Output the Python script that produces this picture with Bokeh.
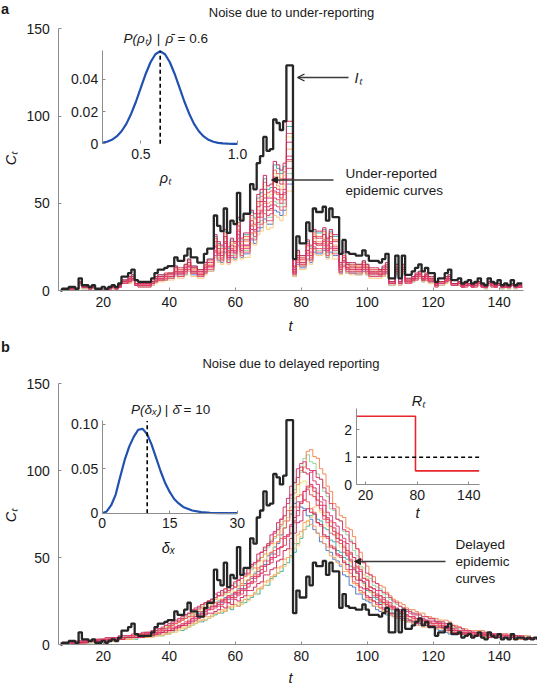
import numpy as np
from bokeh.plotting import figure
from bokeh.layouts import column
from bokeh.models import Range1d, LinearAxis, FixedTicker, Label, Arrow, OpenHead, NormalHead
from bokeh.embed import file_html
from bokeh.resources import INLINE

# ---------------- data ----------------
first_day = 7
# true incidence I_t, one value per day from t = 7 to t = 152
incidence = [
    0, 1, 1, 2, 2, 1, 7, 3, 3, 2, 3, 1,
    1, 2, 1, 2, 3, 2, 4, 8, 8, 10, 12, 6,
    5, 5, 5, 5, 7, 10, 12, 12, 13, 14, 14, 19,
    17, 17, 20, 24, 19, 19, 16, 16, 21, 24, 24, 43,
    37, 34, 47, 33, 40, 38, 56, 40, 44, 44, 61, 58,
    73, 77, 88, 80, 81, 98, 96, 92, 97, 129, 129, 18,
    31, 27, 27, 39, 34, 47, 45, 45, 48, 40, 47, 42,
    42, 21, 29, 22, 21, 21, 20, 20, 23, 20, 17, 17,
    17, 16, 18, 21, 7, 7, 20, 7, 20, 9, 9, 11,
    13, 15, 11, 13, 10, 10, 5, 7, 7, 10, 12, 6,
    6, 7, 4, 5, 6, 4, 5, 7, 4, 3, 7, 5,
    4, 6, 3, 4, 3, 6, 3, 4, 4, 3, 4, 3, 4, 3,
]
# reporting fractions of the under-reported curves (panel a)
under_report_fractions = [0.47, 0.73, 0.52, 0.68, 0.44, 0.63, 0.57, 0.70, 0.50, 0.60, 0.66, 0.54, 0.75, 0.58]

# centre of the delayed curves (panel b), t = 7 .. 152
delayed_centre = [
    0, 0, 0.5, 0.5, 1, 1, 1, 1.5, 1.5, 2, 2, 2,
    2, 2.5, 2.5, 3, 3, 3, 3.5, 3.5, 4, 4, 4.5, 4.5,
    5, 5, 5.5, 6, 6, 6.5, 7, 7.5, 8, 9, 9.5, 10,
    11, 12, 13, 14, 15, 16, 17, 18, 19.5, 20, 21, 22,
    23, 25, 24, 27, 26, 29, 28, 31, 32, 35, 35, 38,
    40, 41, 45, 46, 49, 50, 55, 56, 61, 63, 69, 73,
    79, 81, 88, 89, 86, 85, 80, 78, 72, 70, 64, 63,
    59, 58, 53, 52, 49, 44, 42, 37, 36, 32, 31, 28,
    27, 26, 24, 22, 21, 20, 19, 18, 17, 16, 16, 15,
    14, 14, 13, 13, 12, 12, 11.5, 11, 11, 10, 9, 8.5,
    8, 7, 7, 6.5, 6.5, 6, 6, 6, 5.5, 5.5, 5, 5,
    5, 5, 4.5, 4.5, 4.5, 4, 4, 4, 4, 4, 3.5, 3.5, 3.5, 3.5,
]
delay_shifts = [-3, 2, 0, -1, 3, 0, 1, -2, 0, 2, -2, 1, 0, -1]
delay_scales = [0.92, 0.84, 1.22, 1.06, 0.9, 0.8, 1.26, 0.97, 1.0, 1.12, 1.15, 1.02, 0.88, 1.18]

# inset: distribution of reporting fraction rho_t
rho_grid = [0.300, 0.325, 0.350, 0.375, 0.400, 0.425, 0.450, 0.475, 0.500, 0.525,
            0.550, 0.575, 0.600, 0.625, 0.650, 0.675, 0.700, 0.725, 0.750, 0.775,
            0.800, 0.825, 0.850, 0.875, 0.900, 0.925, 0.950, 0.975, 1.000]
rho_density = [0.0006, 0.0013, 0.0025, 0.0046, 0.0078, 0.0124, 0.0187, 0.0263, 0.0349, 0.0434,
               0.0507, 0.0557, 0.0575, 0.0557, 0.0507, 0.0434, 0.0349, 0.0263, 0.0187, 0.0124,
               0.0078, 0.0046, 0.0025, 0.0013, 0.0006, 0.0003, 0.0001, 0.0, 0.0]
rho_mean = 0.6

# inset: distribution of reporting delay delta_x
delay_grid = [0, 1, 2, 3, 4, 5, 6, 7, 8, 9, 10, 11, 12, 13, 14, 15, 16, 17, 18, 20, 22, 24, 26, 28, 30]
delay_density = [0.0, 0.002, 0.009, 0.021, 0.041, 0.060, 0.075, 0.086, 0.094, 0.095, 0.089, 0.077,
                 0.062, 0.047, 0.034, 0.024, 0.016, 0.011, 0.007, 0.003, 0.0012, 0.0004, 0.0001, 0.0, 0.0]
delay_mean = 10

# inset: reproduction number R_t
R_span = [9, 152]
R_change_day = 78
R_levels = [2.5, 0.5]
R_threshold = 1

curve_colors = ["#4a78c8", "#35b2a4", "#93d3a0", "#ece27c", "#fcc874", "#f9a65e", "#f5854f",
                "#ee6159", "#e84f72", "#db3a6c", "#cf2d62", "#e2466a", "#c8265c", "#d93c74"]

# ---------------- layout helpers ----------------
FONT = "Liberation Sans"
SX = 1.0
SY = 1.0
W = 537
AX_GREY = "#8c8c8c"
TXT = "#1a1a1a"
TICK_SIZE = "14px"
TEXT_SIZE = "13.5px"


def span_range(d0, P0, d1, P1, lo, hi):
    s = (d1 - d0) / (P1 - P0)
    return Range1d(d0 + (lo - P0) * s, d0 + (hi - P0) * s)


def build_panel(height, yoff, xmap, ymap):
    # the frame fills the whole canvas; xmap/ymap = (value0, ref_px0, value1, ref_px1)
    d0, r0, d1, r1 = xmap
    xr = span_range(d0, r0 * SX, d1, r1 * SX, 0, W)
    d0, r0, d1, r1 = ymap
    yr = span_range(d0, (r0 - yoff) * SY, d1, (r1 - yoff) * SY, height, 0)
    p = figure(width=W, height=height, x_range=xr, y_range=yr,
               output_backend="svg", toolbar_location=None,
               x_axis_location=None, y_axis_location=None,
               min_border_left=0, min_border_right=0, min_border_top=0, min_border_bottom=0)
    p.outline_line_color = None
    p.xgrid.visible = False
    p.ygrid.visible = False
    p.background_fill_color = "white"
    p.border_fill_color = "white"
    geo = dict(H=height, yoff=yoff, xr=(xr.start, xr.end), yr=(yr.start, yr.end))
    return p, geo


def ref_to_data(geo, rx, ry):
    fx = rx * SX
    fy = (ry - geo["yoff"]) * SY
    x0, x1 = geo["xr"]
    y0, y1 = geo["yr"]
    return x0 + fx / W * (x1 - x0), y0 + (geo["H"] - fy) / geo["H"] * (y1 - y0)


def add_inset_ranges(p, geo, name, xmap, ymap):
    d0, r0, d1, r1 = xmap
    xr = dict(p.extra_x_ranges)
    xr[name + "_x"] = span_range(d0, r0 * SX, d1, r1 * SX, 0, W)
    p.extra_x_ranges = xr
    d0, r0, d1, r1 = ymap
    yr = dict(p.extra_y_ranges)
    yr[name + "_y"] = span_range(d0, (r0 - geo["yoff"]) * SY, d1, (r1 - geo["yoff"]) * SY, geo["H"], 0)
    p.extra_y_ranges = yr


def add_axis(p, names, dim, loc, bounds, ticks, labels=None, show_line=True, standoff=5):
    kw = {}
    if names is not None:
        kw = dict(x_range_name=names + "_x", y_range_name=names + "_y")
    if labels is not None:
        kw["major_label_overrides"] = dict(zip(ticks, labels))
    ax = LinearAxis(fixed_location=loc, bounds=bounds, ticker=FixedTicker(ticks=ticks), **kw)
    ax.axis_line_color = AX_GREY if show_line else None
    ax.axis_line_width = 1
    ax.major_tick_line_color = AX_GREY
    ax.major_tick_in = 3
    ax.major_tick_out = 0
    ax.minor_tick_line_color = None
    ax.major_label_text_font = FONT
    ax.major_label_text_font_size = TICK_SIZE
    ax.major_label_text_color = TXT
    ax.major_label_standoff = standoff
    p.add_layout(ax, "below" if dim == "x" else "left")


def add_text(p, geo, text, rx, ry, size=TEXT_SIZE, style="normal", align="center",
             baseline="middle", angle=0.0):
    x, y = ref_to_data(geo, rx, ry)
    p.add_layout(Label(x=x, y=y, text=text, text_font=FONT, text_font_size=size,
                       text_font_style=style, text_align=align, text_baseline=baseline,
                       angle=angle, text_color=TXT))


def add_arrow(p, geo, start, end, head):
    xs, ys = ref_to_data(geo, *start)
    xe, ye = ref_to_data(geo, *end)
    p.add_layout(Arrow(x_start=xs, y_start=ys, x_end=xe, y_end=ye, end=head,
                       line_color="#3a3a3a", line_width=1.3))


days = np.arange(first_day, first_day + len(incidence))
inc = np.array(incidence, dtype=float)

# ---------------- panel a ----------------
TOP_T = (6.5, 147.3)
p1, g1 = build_panel(335, 0, (TOP_T[0], 58.3, TOP_T[1], 522.7), (0, 290.0, 150, 28.3))
add_axis(p1, None, "x", 0, TOP_T, [20, 40, 60, 80, 100, 120, 140], standoff=6)
add_axis(p1, None, "y", TOP_T[0], (0, 150), [0, 50, 100, 150], standoff=9)

keep = days <= TOP_T[1]
for frac, col in zip(under_report_fractions, curve_colors):
    p1.step(days[keep], np.round(frac * inc[keep]), mode="center",
            line_color=col, line_width=1.0, line_alpha=0.95)
p1.step(days[keep], inc[keep], mode="center", line_color="#262626", line_width=2.3)

add_inset_ranges(p1, g1, "rho", (0.3, 101.7, 1.0, 237.0), (0.0, 143.3, 0.058, 50.0))
add_axis(p1, "rho", "y", 0.3, (0, 0.058), [0, 0.02, 0.04], ["0", "0.02", "0.04"], standoff=4)
add_axis(p1, "rho", "x", 0.0, (0.3, 1.0), [0.5, 1.0], ["0.5", "1.0"], show_line=False, standoff=5)
p1.line(rho_grid, rho_density, x_range_name="rho_x", y_range_name="rho_y",
        line_color="#2151b0", line_width=2.2)
p1.line([rho_mean, rho_mean], [0, max(rho_density)], x_range_name="rho_x", y_range_name="rho_y",
        line_color="black", line_width=1.6, line_dash="4 3")

add_text(p1, g1, "a", 0.5, 0.0, size="14.5px", style="bold", align="left", baseline="top")
add_text(p1, g1, "Noise due to under-reporting", 291, 11.5, size="13px")
add_text(p1, g1, "Cₜ", 10, 158, size="14.5px", style="italic", angle=np.pi / 2)
add_text(p1, g1, "t", 290, 325, size="14.5px", style="italic")
add_text(p1, g1, "P(ρₜ)", 123, 37.5, style="italic", align="left")
add_text(p1, g1, "|", 158, 37.5)
add_text(p1, g1, "ρ̄", 165, 37.5, style="italic", align="left")
add_text(p1, g1, "= 0.6", 177, 37.5, align="left")
add_text(p1, g1, "ρₜ", 165, 177, size="14.5px", style="italic")
add_text(p1, g1, "Iₜ", 354, 77, size="14.5px", style="italic", align="left")
add_arrow(p1, g1, (348, 77), (297, 77), OpenHead(size=7, line_color="#262626", line_width=1.3))
add_text(p1, g1, "Under-reported", 345, 172.5, align="left")
add_text(p1, g1, "epidemic curves", 345, 189.5, align="left")
add_arrow(p1, g1, (333, 179.5), (271, 179.5),
          NormalHead(size=6, fill_color="#262626", line_color="#262626"))

# ---------------- panel b ----------------
BOT_T = (6.5, 151.6)
p2, g2 = build_panel(350, 335, (BOT_T[0], 58.3, BOT_T[1], 537.0), (0, 644.0, 150, 383.0))
add_axis(p2, None, "x", 0, BOT_T, [20, 40, 60, 80, 100, 120, 140], standoff=6)
add_axis(p2, None, "y", BOT_T[0], (0, 150), [0, 50, 100, 150], standoff=9)

dcen = np.array(delayed_centre, dtype=float)
for sh, sc, col in zip(delay_shifts, delay_scales, curve_colors):
    xs = days + sh
    ok = (xs >= first_day) & (xs <= BOT_T[1])
    p2.step(xs[ok], np.round(sc * dcen[ok]), mode="center",
            line_color=col, line_width=1.0, line_alpha=0.95)
p2.step(days, inc, mode="center", line_color="#262626", line_width=2.3)

add_inset_ranges(p2, g2, "dl", (0, 101.7, 30, 236.7), (0.0, 512.7, 0.104, 420.4))
add_axis(p2, "dl", "y", 0, (0, 0.104), [0, 0.05, 0.1], ["0", "0.05", "0.10"], standoff=4)
add_axis(p2, "dl", "x", 0.0, (0, 30), [0, 15, 30], ["0", "15", "30"], standoff=5)
p2.line(delay_grid, delay_density, x_range_name="dl_x", y_range_name="dl_y",
        line_color="#2151b0", line_width=2.2)
p2.line([delay_mean, delay_mean], [0, 0.104], x_range_name="dl_x", y_range_name="dl_y",
        line_color="black", line_width=1.6, line_dash="4 3")

add_inset_ranges(p2, g2, "rt", (20, 365.1, 140, 468.3), (0.0, 484.0, 2.8, 407.6))
add_axis(p2, "rt", "y", R_span[0], (0, 2.8), [0, 1, 2], ["0", "1", "2"], standoff=4)
add_axis(p2, "rt", "x", 0.0, (R_span[0], R_span[1]), [20, 80, 140], ["20", "80", "140"], standoff=5)
p2.line([R_span[0], R_change_day, R_change_day, R_span[1]],
        [R_levels[0], R_levels[0], R_levels[1], R_levels[1]],
        x_range_name="rt_x", y_range_name="rt_y", line_color="#e8262d", line_width=1.6)
p2.line(R_span, [R_threshold, R_threshold], x_range_name="rt_x", y_range_name="rt_y",
        line_color="black", line_width=1.4, line_dash="4 3")

add_text(p2, g2, "b", 0.5, 338, size="14.5px", style="bold", align="left", baseline="top")
add_text(p2, g2, "Noise due to delayed reporting", 290.5, 363, size="13px")
add_text(p2, g2, "Cₜ", 10, 515, size="14.5px", style="italic", angle=np.pi / 2)
add_text(p2, g2, "t", 290, 677, size="14.5px", style="italic")
add_text(p2, g2, "P(δₓ)", 130.5, 409, style="italic", align="left")
add_text(p2, g2, "|", 166, 409)
add_text(p2, g2, "δ̄", 172, 409, style="italic", align="left")
add_text(p2, g2, "= 10", 183, 409, align="left")
add_text(p2, g2, "δₓ", 168, 547, size="14.5px", style="italic")
add_text(p2, g2, "Rₜ", 418, 400, size="14.5px", style="italic")
add_text(p2, g2, "t", 417, 512, size="14.5px", style="italic")
add_text(p2, g2, "Delayed", 455, 543.5, align="left")
add_text(p2, g2, "epidemic", 455, 560.5, align="left")
add_text(p2, g2, "curves", 455, 577.5, align="left")
add_arrow(p2, g2, (445, 561), (354, 561),
          NormalHead(size=6, fill_color="#262626", line_color="#262626"))

layout = column(p1, p2, spacing=0)
open("out.html", "w").write(file_html(layout, INLINE))
